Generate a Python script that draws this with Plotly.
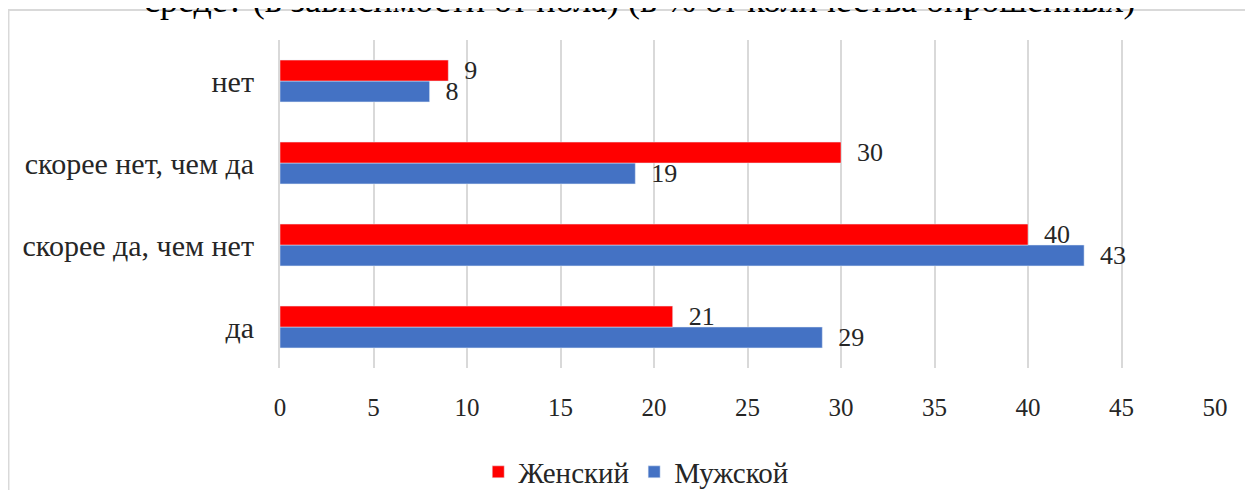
import plotly.graph_objects as go

categories = ["да", "скорее да, чем нет", "скорее нет, чем да", "нет"]
female = [21, 40, 30, 9]
male = [29, 43, 19, 8]
series_names = ["Женский", "Мужской"]
title_text = "среде? (в зависимости от пола) (в % от количества опрошенных)"

FONT = "Liberation Serif, Times New Roman, serif"
TXT = "#262626"

fig = go.Figure()
fig.add_trace(go.Bar(
    y=categories, x=male, name=series_names[1], orientation="h",
    marker=dict(color="#4472C4"),
    text=male, texttemplate="  %{x}", textposition="outside",
    textfont=dict(family=FONT, size=26, color=TXT),
    constraintext="none", cliponaxis=False,
))
fig.add_trace(go.Bar(
    y=categories, x=female, name=series_names[0], orientation="h",
    marker=dict(color="#FF0000"),
    text=female, texttemplate="  %{x}", textposition="outside",
    textfont=dict(family=FONT, size=26, color=TXT),
    constraintext="none", cliponaxis=False,
))

fig.update_layout(
    width=1245, height=482,
    margin=dict(l=272, r=38, t=32, b=122, autoexpand=False),
    paper_bgcolor="white", plot_bgcolor="white",
    barmode="group", bargap=0.49, bargroupgap=0,
    font=dict(family=FONT, size=22, color=TXT),
    showlegend=True,
    legend=dict(orientation="h", traceorder="reversed", x=0.381, xanchor="center",
                y=-0.317, yanchor="middle", font=dict(family=FONT, size=29, color=TXT),
                itemwidth=30),
    xaxis=dict(range=[0, 50], dtick=5, showgrid=True, gridcolor="#D9D9D9", gridwidth=2,
               zeroline=False, showline=False, ticks="", ticklabelstandoff=22,
               automargin=False,
               tickfont=dict(family=FONT, size=25, color=TXT)),
    yaxis=dict(showgrid=False, zeroline=False, showline=True, linecolor="#D9D9D9", linewidth=2,
               ticks="", ticklabelstandoff=18, automargin=False,
               tickfont=dict(family=FONT, size=30, color=TXT)),
)

fig.add_annotation(
    text=title_text, xref="paper", yref="paper", x=0.385, y=1.122,
    xanchor="center", yanchor="middle", showarrow=False,
    font=dict(family=FONT, size=36, color="#000000"),
)

fig.add_shape(type="rect", xref="paper", yref="paper",
              x0=-0.2904, x1=1.2, y0=-0.6, y1=1.0915,
              line=dict(color="#D9D9D9", width=2), layer="below")

fig.write_html("out.html")
